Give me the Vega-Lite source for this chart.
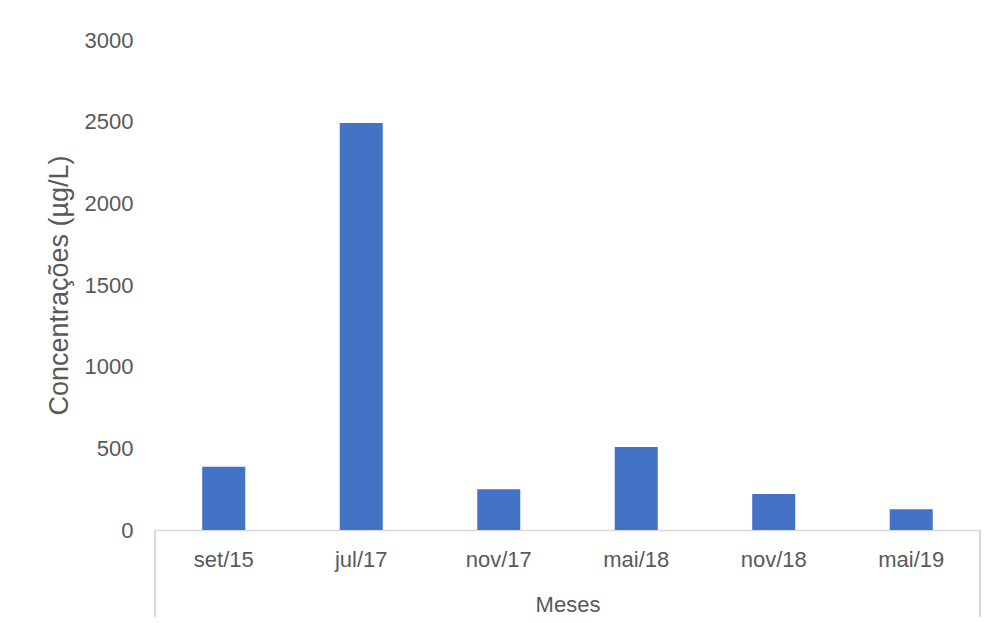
{
  "$schema": "https://vega.github.io/schema/vega-lite/v6.json",
  "width": 825,
  "height": 490,
  "autosize": {"type": "none"},
  "padding": {"left": 155, "top": 40, "right": 16, "bottom": 93},
  "background": "white",
  "config": {
    "view": {"stroke": null},
    "font": "Liberation Sans",
    "axis": {"labelFont": "Liberation Sans", "titleFont": "Liberation Sans", "labelColor": "#595959", "titleColor": "#595959", "titleFontWeight": "normal"}
  },
  "data": {
    "values": [
      {"mes": "set/15", "valor": 388},
      {"mes": "jul/17", "valor": 2492},
      {"mes": "nov/17", "valor": 250},
      {"mes": "mai/18", "valor": 508},
      {"mes": "nov/18", "valor": 220},
      {"mes": "mai/19", "valor": 127}
    ]
  },
  "encoding": {
    "x": {
      "field": "mes",
      "type": "nominal",
      "sort": null,
      "scale": {"paddingInner": 0, "paddingOuter": 0},
      "axis": {
        "title": "Meses",
        "labelAngle": 0,
        "labelFontSize": 22,
        "titleFontSize": 22,
        "labelPadding": 19,
        "titlePadding": 24,
        "domainColor": "#D9D9D9",
        "domainWidth": 1.5,
        "ticks": false
      }
    },
    "y": {
      "field": "valor",
      "type": "quantitative",
      "scale": {"domain": [0, 3000]},
      "axis": {
        "title": "Concentrações (µg/L)",
        "values": [0, 500, 1000, 1500, 2000, 2500, 3000],
        "format": "d",
        "grid": false,
        "domain": false,
        "ticks": false,
        "labelFontSize": 22,
        "titleFontSize": 27,
        "labelPadding": 22,
        "titlePadding": 11
      }
    }
  },
  "layer": [
    {"mark": {"type": "bar", "color": "#4472C4", "width": {"band": 0.313}}},
    {
      "mark": {"type": "rule", "color": "#D9D9D9", "strokeWidth": 1.5},
      "encoding": {
        "x": {"datum": "set/15", "bandPosition": 0},
        "y": {"datum": 0},
        "y2": {"datum": -532}
      }
    },
    {
      "mark": {"type": "rule", "color": "#D9D9D9", "strokeWidth": 1.5},
      "encoding": {
        "x": {"datum": "mai/19", "bandPosition": 1},
        "y": {"datum": 0},
        "y2": {"datum": -532}
      }
    }
  ]
}
